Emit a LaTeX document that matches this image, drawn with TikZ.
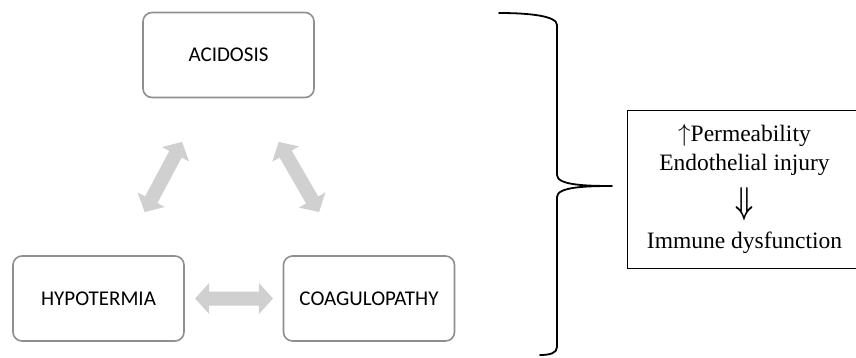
\documentclass[tikz,border=0pt]{standalone}
\usepackage{fontspec}
\usepackage{graphicx}
\setmainfont{Liberation Serif}
\newfontfamily\calibfont{Carlito}
\usetikzlibrary{arrows.meta,calc}
\definecolor{boxgray}{HTML}{8F8F8F}
\definecolor{arrowgray}{HTML}{D0D0D0}
\begin{document}
\begin{tikzpicture}[x=1pt,y=-1pt,
  state/.style={draw=boxgray, line width=1.6pt, rounded corners=9pt,
    minimum width=171pt, minimum height=85pt, inner sep=0pt,
    font=\calibfont\fontsize{21}{25}\selectfont},
  fatarrow/.style={arrowgray, line width=14pt,
    {Triangle[width=30pt,length=14pt]}-{Triangle[width=30pt,length=14pt]}},
  serifText/.style={inner sep=0pt, font=\fontsize{23.5}{28}\selectfont},
  bigArrowText/.style={inner sep=0pt, font=\boldmath},
  bracestyle/.style={line width=1.8pt, line cap=round, line join=round}
]
\useasboundingbox (0,0) rectangle (856,357);
\fill[white] (0,0) rectangle (856,357);

% three states
\node[state] (acid) at (228.5,55) {ACIDOSIS};
\node[state] (hypo) at (98.5,298.5) {HYPOTERMIA};
\node[state] (coag) at (369,298.5) {COAGULOPATHY};

% fat double arrows
\draw[fatarrow] ($(acid.center)!0.357!(hypo.center)$) -- ($(acid.center)!0.645!(hypo.center)$);
\draw[fatarrow] ($(acid.center)!0.357!(coag.center)$) -- ($(acid.center)!0.645!(coag.center)$);
\draw[fatarrow] ($(hypo.center)!0.357!(coag.center)$) -- ($(hypo.center)!0.645!(coag.center)$);

% brace
\coordinate (btop) at (499,13);
\coordinate (btip) at (612,186);
\coordinate (bbot) at (540,355);
\draw[bracestyle] (btop) .. controls (530,13) and (557,16) .. (557,25)
  -- (557,175) .. controls (557,185) and (585,186) .. (btip)
  .. controls (585,186) and (557,187) .. (557,197)
  -- (557,347) .. controls (557,353) and (550,355) .. (bbot);

% result box
\node[draw, line width=0.9pt, minimum width=235pt, minimum height=158pt, inner sep=0pt] (res) at (744.5,189) {};
\node[serifText] (t1) at (744.5,135) {$\uparrow$Permeability};
\node[serifText] (t2) at (744.5,165) {Endothelial injury};
\node[bigArrowText] (t3) at (744.5,204) {\resizebox{18pt}{26pt}{$\Downarrow$}};
\node[serifText] (t4) at (744.5,243) {Immune dysfunction};
\end{tikzpicture}
\end{document}
